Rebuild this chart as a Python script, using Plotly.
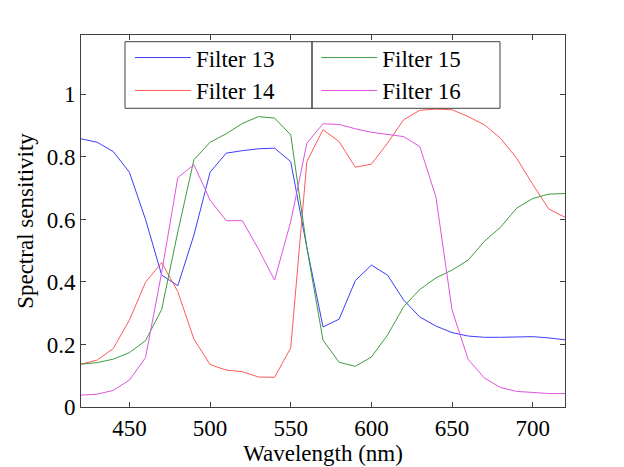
import plotly.graph_objects as go

# wavelengths (nm), sampled every 10 nm
wavelength = list(range(420, 721, 10))

filter13 = [0.858, 0.847, 0.817, 0.751, 0.60, 0.422, 0.388, 0.55, 0.751, 0.812,
            0.820, 0.826, 0.828, 0.785, 0.51, 0.256, 0.281, 0.404, 0.454, 0.422,
            0.342, 0.288, 0.259, 0.238, 0.227, 0.223, 0.223, 0.225, 0.225, 0.221, 0.215]
filter14 = [0.137, 0.150, 0.187, 0.278, 0.399, 0.462, 0.369, 0.217, 0.136, 0.118,
            0.113, 0.096, 0.095, 0.189, 0.785, 0.887, 0.849, 0.767, 0.777, 0.844,
            0.919, 0.949, 0.953, 0.951, 0.929, 0.903, 0.860, 0.796, 0.712, 0.633, 0.607]
filter15 = [0.137, 0.142, 0.153, 0.174, 0.212, 0.312, 0.56, 0.791, 0.847, 0.874,
            0.907, 0.929, 0.924, 0.871, 0.51, 0.214, 0.143, 0.130, 0.160, 0.230,
            0.321, 0.376, 0.413, 0.438, 0.470, 0.530, 0.575, 0.636, 0.667, 0.681, 0.683]
filter16 = [0.038, 0.041, 0.053, 0.086, 0.158, 0.43, 0.734, 0.775, 0.662, 0.596,
            0.596, 0.505, 0.406, 0.593, 0.844, 0.906, 0.904, 0.890, 0.879, 0.872,
            0.865, 0.833, 0.672, 0.310, 0.152, 0.093, 0.062, 0.050, 0.046, 0.043, 0.043]

series = [
    ('Filter 13', filter13, '#3c3cff', 'legend'),
    ('Filter 14', filter14, '#ff5a5a', 'legend'),
    ('Filter 15', filter15, '#3c9c3c', 'legend2'),
    ('Filter 16', filter16, '#dd55dd', 'legend2'),
]

fig = go.Figure()
for name, vals, color, leg in series:
    fig.add_trace(go.Scatter(x=wavelength, y=vals, mode='lines', name=name,
                             line=dict(color=color, width=1), legend=leg))

font = 'Liberation Serif, Times New Roman, serif'
fsize = 23
axis_common = dict(
    showline=True,
    linewidth=1,
    linecolor='#404040',
    mirror='ticks',
    ticks='inside',
    ticklen=5,
    tickcolor='#404040',
    showgrid=False,
    zeroline=False,
    tickfont=dict(family=font, size=fsize, color='black'),
)

leg_style = dict(
    font=dict(family=font, size=fsize, color='black'),
    bgcolor='rgba(0,0,0,0)',
    borderwidth=0,
    xanchor='left',
    yanchor='top',
    tracegroupgap=0,
    itemwidth=56,
)

fig.update_layout(
    width=624,
    height=467,
    # page body adds an 8px offset, so margins are shifted to compensate
    margin=dict(l=73, r=67, t=27, b=68),
    plot_bgcolor='white',
    paper_bgcolor='white',
    font=dict(family=font, color='black'),
    xaxis=dict(range=[420, 720], tickvals=[450, 500, 550, 600, 650, 700],
               title=dict(text='Wavelength (nm)', font=dict(family=font, size=fsize), standoff=2),
               **axis_common),
    yaxis=dict(range=[0, 1.19], tickvals=[0, 0.2, 0.4, 0.6, 0.8, 1],
               ticktext=['0', '0.2', '0.4', '0.6', '0.8', '1'],
               title=dict(text='Spectral sensitivity', font=dict(family=font, size=fsize), standoff=6),
               **axis_common),
    legend=dict(x=0.101, y=0.997, **leg_style),
    legend2=dict(x=0.486, y=0.997, **leg_style),
    shapes=[
        dict(type='rect', xref='paper', yref='paper', x0=0.0909, x1=0.4773, y0=0.803, y1=0.982,
             line=dict(color='#404040', width=1)),
        dict(type='rect', xref='paper', yref='paper', x0=0.4773, x1=0.8657, y0=0.803, y1=0.982,
             line=dict(color='#404040', width=1)),
    ],
)

fig.write_html('out.html')
